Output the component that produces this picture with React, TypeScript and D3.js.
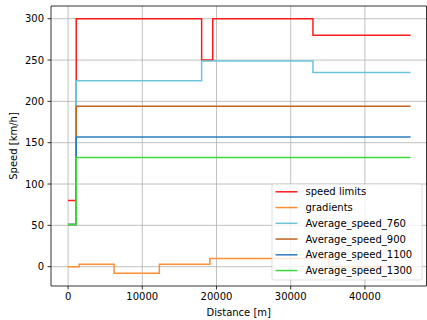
import React from "react";
import * as d3 from "d3";

const W = 427;
const H = 320;
const M = { left: 51, right: 426.5, top: 6, bottom: 286 };

const xTicks = [0, 10000, 20000, 30000, 40000];
const yTicks = [0, 50, 100, 150, 200, 250, 300];
const xDomain = [-2300, 48300];
const yDomain = [-23.4, 315.4];

const xEnd = 46150;

const speedLimitX = [0, 1100, 18000, 19500, 33000];
const speedLimitV = [80, 300, 250, 300, 280];

const gradientX = [0, 1500, 6200, 12300, 19100, 35100];
const gradientV = [0, 3, -8, 3, 10, 0];

const avg760X = [0, 1100, 18000, 33000];
const avg760V = [51, 225, 249, 235];

const avg900X = [0, 1100];
const avg900V = [51, 194];

const avg1100X = [0, 1100];
const avg1100V = [51, 157];

const avg1300X = [0, 1100];
const avg1300V = [51, 132];

const seriesNames = [
  "speed limits",
  "gradients",
  "Average_speed_760",
  "Average_speed_900",
  "Average_speed_1100",
  "Average_speed_1300",
];

const series = [
  { name: seriesNames[0], xs: speedLimitX, vs: speedLimitV, color: "#ff1a1a" },
  { name: seriesNames[1], xs: gradientX, vs: gradientV, color: "#ff8f30" },
  { name: seriesNames[2], xs: avg760X, vs: avg760V, color: "#6cc4d8" },
  { name: seriesNames[3], xs: avg900X, vs: avg900V, color: "#c0641e" },
  { name: seriesNames[4], xs: avg1100X, vs: avg1100V, color: "#2f7dc0" },
  { name: seriesNames[5], xs: avg1300X, vs: avg1300V, color: "#3ed83e" },
];

export default function App() {
  const x = d3.scaleLinear().domain(xDomain).range([M.left, M.right]);
  const y = d3.scaleLinear().domain(yDomain).range([M.bottom, M.top]);
  const line = d3
    .line<[number, number]>()
    .x((d) => x(d[0]))
    .y((d) => y(d[1]))
    .curve(d3.curveStepAfter);

  const font = "DejaVu Sans, sans-serif";
  const legX = 272;
  const legY = 184;
  const legW = 150;
  const legH = 96;
  const rowH = 15.75;

  return (
    <svg
      width={W}
      height={H}
      style={{ position: "absolute", left: 0, top: 0, background: "#fff" }}
      fontFamily={font}
    >
      <rect x={0} y={0} width={W} height={H} fill="#fff" />
      <defs>
        <clipPath id="plot">
          <rect x={M.left} y={M.top} width={M.right - M.left} height={M.bottom - M.top} />
        </clipPath>
      </defs>
      {/* grid */}
      <g stroke="#b0b0b0" strokeWidth={0.8}>
        {xTicks.map((t) => (
          <line key={"gx" + t} x1={x(t)} x2={x(t)} y1={M.top} y2={M.bottom} />
        ))}
        {yTicks.map((t) => (
          <line key={"gy" + t} x1={M.left} x2={M.right} y1={y(t)} y2={y(t)} />
        ))}
      </g>
      {/* series */}
      <g clipPath="url(#plot)" fill="none" strokeWidth={1.5} strokeLinejoin="miter">
        {series.map((s) => {
          const pts: [number, number][] = s.xs.map((xv, i) => [xv, s.vs[i]]);
          pts.push([xEnd, s.vs[s.vs.length - 1]]);
          return <path key={s.name} d={line(pts) || ""} stroke={s.color} />;
        })}
      </g>
      {/* spines */}
      <g stroke="#000" strokeWidth={0.8} fill="none">
        <line x1={M.left} x2={M.left} y1={M.top} y2={M.bottom} />
        <line x1={M.right} x2={M.right} y1={M.top} y2={M.bottom} />
        <line x1={M.left} x2={M.right} y1={M.top} y2={M.top} />
        <line x1={M.left} x2={M.right} y1={M.bottom} y2={M.bottom} />
      </g>
      {/* ticks */}
      <g stroke="#000" strokeWidth={0.8}>
        {xTicks.map((t) => (
          <line key={"tx" + t} x1={x(t)} x2={x(t)} y1={M.bottom} y2={M.bottom + 3.5} />
        ))}
        {yTicks.map((t) => (
          <line key={"ty" + t} x1={M.left - 3.5} x2={M.left} y1={y(t)} y2={y(t)} />
        ))}
      </g>
      <g fontSize={10} fill="#000">
        {xTicks.map((t) => (
          <text key={"lx" + t} x={x(t)} y={M.bottom + 7} textAnchor="middle" dominantBaseline="hanging">
            {String(t)}
          </text>
        ))}
        {yTicks.map((t) => (
          <text key={"ly" + t} x={M.left - 7} y={y(t)} textAnchor="end" dominantBaseline="central">
            {String(t)}
          </text>
        ))}
        <text x={(M.left + M.right) / 2} y={316} textAnchor="middle">
          Distance [m]
        </text>
        <text
          transform={`translate(${16.5},${(M.top + M.bottom) / 2}) rotate(-90)`}
          textAnchor="middle"
        >
          Speed [km/h]
        </text>
      </g>
      {/* legend */}
      <g>
        <rect
          x={legX}
          y={legY}
          width={legW}
          height={legH}
          rx={2}
          fill="#fff"
          fillOpacity={0.8}
          stroke="#cccccc"
          strokeOpacity={0.8}
          strokeWidth={0.8}
        />
        {series.map((s, i) => {
          const cy = legY + 7.8 + i * rowH;
          return (
            <g key={"leg" + s.name}>
              <line x1={legX + 3.5} x2={legX + 25.5} y1={cy} y2={cy} stroke={s.color} strokeWidth={1.5} />
              <text x={legX + 33.5} y={cy} fontSize={10} dominantBaseline="central" fill="#000">
                {s.name}
              </text>
            </g>
          );
        })}
      </g>
    </svg>
  );
}
